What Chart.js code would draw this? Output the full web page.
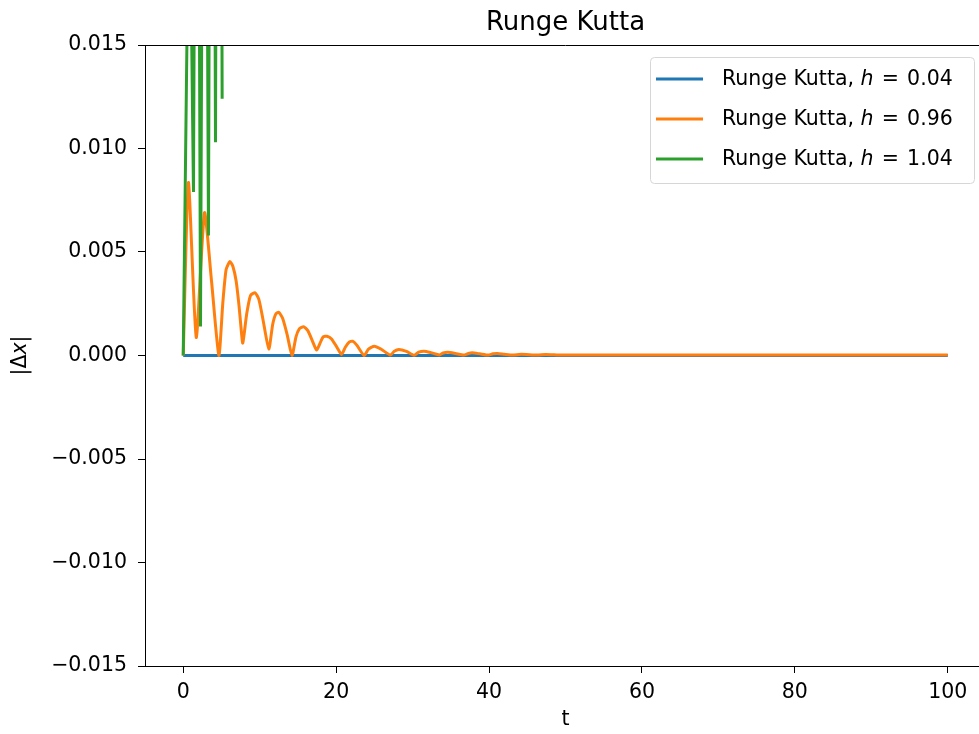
<!DOCTYPE html>
<html>
<head>
<meta charset="utf-8">
<title>Runge Kutta</title>
<script src="https://cdn.jsdelivr.net/npm/chart.js@4.4.1/dist/chart.umd.min.js"></script>
<style>
  html, body { margin: 0; padding: 0; background: #fff; overflow: hidden; width: 979px; height: 734px; }
  #wrap { position: absolute; left: 0; top: 0; width: 1000px; height: 734px; }
</style>
</head>
<body>
<div id="wrap"><canvas id="c" width="1000" height="734"></canvas></div>
<script>
// Step sizes of the three integrations
const stepSizes = [0.04, 0.96, 1.04];
const seriesColors = ['#1f77b4', '#ff7f0e', '#2ca02c'];

// |Δx| for h = 0.04
const tSmall = [0, 10, 20, 30, 40, 50, 60, 70, 80, 90, 100];
const errSmall = [0, 0, 0, 0, 0, 0, 0, 0, 0, 0, 0];

// |Δx| for h = 0.96
const tMid = [0, 0.68, 1.7, 2.78, 3.7, 4.66, 5.18, 5.61, 6.1, 6.5, 6.92, 7.3, 7.57, 7.79,
  8.3, 8.8, 9.4, 9.9, 10.4, 11.19,
  11.7, 12.1, 12.49, 13.0, 13.6, 14.23,
  14.75, 15.2, 15.75, 16.3, 16.9, 17.45,
  17.9, 18.3, 18.8, 19.4, 20.1, 20.72,
  21.2, 21.7, 22.15, 22.7, 23.67,
  24.2, 25.0, 25.9, 27.1,
  27.6, 28.2, 29.2, 30.2,
  30.8, 31.5, 32.4, 33.5,
  34.0, 34.6, 35.6, 36.7,
  37.3, 37.8, 38.8, 39.9,
  40.5, 41.1, 42.0, 43.1,
  44.2, 46.3, 47.4, 49.5, 55, 60, 70, 80, 90, 100];
const errMid = [0, 0.00836, 0.00087, 0.0069, 0.0036, 0.0, 0.00255, 0.00415, 0.00454, 0.0043, 0.0036, 0.0024, 0.0013, 0.0006,
  0.0020, 0.0029, 0.00303, 0.0027, 0.0018, 0.00032,
  0.0015, 0.0020, 0.00209, 0.0018, 0.0010, 0.0,
  0.0009, 0.0013, 0.00139, 0.0012, 0.0007, 0.00026,
  0.0006, 0.0009, 0.00093, 0.0008, 0.0004, 0.00005,
  0.0004, 0.00065, 0.00069, 0.0005, 0.0,
  0.0003, 0.00045, 0.0003, 0.00002,
  0.0002, 0.00029, 0.0002, 0.00001,
  0.00016, 0.00021, 0.00014, 0.00003,
  0.00012, 0.00016, 0.0001, 0.00002,
  0.0001, 0.00013, 0.00008, 0.00002,
  0.00008, 0.0001, 0.00006, 0.00002,
  0.00006, 0.00002, 0.00005, 0.00002, 0.00003, 0.00002, 0.00002, 0.00002, 0.00002, 0.00002];

// |Δx| for h = 1.04 (diverging)
const tLarge = [0, 0.8, 1.34, 1.8, 2.26, 2.78, 3.30, 3.76, 4.22, 4.66, 5.09];
const errLarge = [0, 0.025, 0.0079, 0.05, 0.0014, 0.05, 0.0058, 0.06, 0.0103, 0.07, 0.0124];

// Axis ticks
const xTicks = [0, 20, 40, 60, 80, 100];
const yTicks = [-0.015, -0.010, -0.005, 0.000, 0.005, 0.010, 0.015];

const seriesT = [tSmall, tMid, tLarge];
const seriesErr = [errSmall, errMid, errLarge];
const seriesTension = [0, 0.2, 0];

const FONT = "'DejaVu Sans', sans-serif";
const TEXT_PX = 20.5;
const TITLE_PX = 26;
const LINE_W = 3;
const seriesName = 'Runge Kutta';

const datasets = stepSizes.map((h, i) => ({
  label: seriesName + ', h = ' + h.toFixed(2),
  stepText: h.toFixed(2),
  data: seriesT[i].map((t, k) => ({ x: t, y: seriesErr[i][k] })),
  borderColor: seriesColors[i],
  backgroundColor: seriesColors[i],
  borderWidth: LINE_W,
  pointRadius: 0,
  tension: seriesTension[i],
  fill: false,
  clip: 0,
  order: stepSizes.length - i
}));

// Legend entry: plain name, then the math part "h = value" with an italic h
function drawLegendLabel(ctx, stepText, x, y, size) {
  const plain = size + 'px ' + FONT;
  const italic = 'italic ' + size + 'px ' + FONT;
  let cx = x;
  ctx.font = plain;
  ctx.fillText(seriesName + ', ', cx, y);
  cx += ctx.measureText(seriesName + ', ').width;
  ctx.font = italic;
  ctx.fillText('h', cx, y);
  cx += ctx.measureText('h').width + size * 0.4;
  ctx.font = plain;
  ctx.fillText('=', cx, y);
  cx += ctx.measureText('=').width + size * 0.4;
  ctx.fillText(stepText, cx, y);
}

const decorations = {
  id: 'decorations',
  afterDatasetsDraw(chart) {
    const ctx = chart.ctx;
    const a = chart.chartArea;
    ctx.save();
    // top and right spines
    ctx.strokeStyle = '#000';
    ctx.lineWidth = 1;
    ctx.beginPath();
    ctx.moveTo(a.left, a.top + 0.5);
    ctx.lineTo(a.right, a.top + 0.5);
    ctx.lineTo(a.right, a.bottom);
    ctx.stroke();

    // title
    ctx.fillStyle = '#000';
    ctx.textAlign = 'center';
    ctx.textBaseline = 'middle';
    ctx.font = TITLE_PX + 'px ' + FONT;
    ctx.fillText('Runge Kutta', (a.left + a.right) / 2, 23);

    // x label
    ctx.font = TEXT_PX + 'px ' + FONT;
    ctx.fillText('t', (a.left + a.right) / 2, 720);

    // y label |Δx|
    ctx.save();
    ctx.translate(21, (a.top + a.bottom) / 2);
    ctx.rotate(-Math.PI / 2);
    ctx.textAlign = 'left';
    const pieces = [['|Δ', ''], ['x', 'italic '], ['|', '']];
    let w = 0;
    pieces.forEach(p => { ctx.font = p[1] + TEXT_PX + 'px ' + FONT; w += ctx.measureText(p[0]).width; });
    let px = -w / 2;
    pieces.forEach(p => { ctx.font = p[1] + TEXT_PX + 'px ' + FONT; ctx.fillText(p[0], px, 0); px += ctx.measureText(p[0]).width; });
    ctx.restore();

    // legend
    const bx = 650.5, by = 57.5, bw = 324, bh = 126, r = 4;
    ctx.beginPath();
    ctx.moveTo(bx + r, by);
    ctx.lineTo(bx + bw - r, by);
    ctx.arcTo(bx + bw, by, bx + bw, by + r, r);
    ctx.lineTo(bx + bw, by + bh - r);
    ctx.arcTo(bx + bw, by + bh, bx + bw - r, by + bh, r);
    ctx.lineTo(bx + r, by + bh);
    ctx.arcTo(bx, by + bh, bx, by + bh - r, r);
    ctx.lineTo(bx, by + r);
    ctx.arcTo(bx, by, bx + r, by, r);
    ctx.closePath();
    ctx.fillStyle = 'rgba(255,255,255,0.8)';
    ctx.fill();
    ctx.strokeStyle = '#d6d6d6';
    ctx.stroke();

    const rows = [79, 119, 159];
    ctx.textAlign = 'left';
    ctx.textBaseline = 'middle';
    chart.data.datasets.forEach((ds, i) => {
      ctx.strokeStyle = ds.borderColor;
      ctx.lineWidth = LINE_W;
      ctx.beginPath();
      ctx.moveTo(656, rows[i]);
      ctx.lineTo(703, rows[i]);
      ctx.stroke();
      ctx.fillStyle = '#000';
      drawLegendLabel(ctx, ds.stepText, 722, rows[i] + 1, TEXT_PX);
    });
    ctx.restore();
  }
};

new Chart(document.getElementById('c'), {
  type: 'line',
  data: { datasets },
  options: {
    responsive: false,
    animation: false,
    layout: { padding: { left: 0, right: 14, top: 45, bottom: 0 } },
    plugins: { legend: { display: false }, tooltip: { enabled: false }, title: { display: false } },
    scales: {
      x: {
        type: 'linear',
        min: -5,
        max: 105,
        afterFit(s) { s.height = 68; },
        afterBuildTicks(s) { s.ticks = xTicks.map(v => ({ value: v })); },
        grid: { drawOnChartArea: false, drawTicks: true, tickLength: 7, color: '#000', tickWidth: 1 },
        border: { display: true, color: '#000', width: 1 },
        ticks: {
          color: '#000',
          padding: 7,
          maxRotation: 0,
          font: { family: FONT, size: TEXT_PX },
          callback: v => String(v)
        }
      },
      y: {
        type: 'linear',
        min: -0.015,
        max: 0.015,
        afterFit(s) { s.width = 145; },
        afterBuildTicks(s) { s.ticks = yTicks.map(v => ({ value: v })); },
        grid: { drawOnChartArea: false, drawTicks: true, tickLength: 7, color: '#000', tickWidth: 1 },
        border: { display: true, color: '#000', width: 1 },
        ticks: {
          color: '#000',
          padding: 11,
          font: { family: FONT, size: TEXT_PX },
          callback: v => (v < 0 ? '\u2212' : '') + Math.abs(v).toFixed(3)
        }
      }
    }
  },
  plugins: [decorations]
});
</script>
</body>
</html>
